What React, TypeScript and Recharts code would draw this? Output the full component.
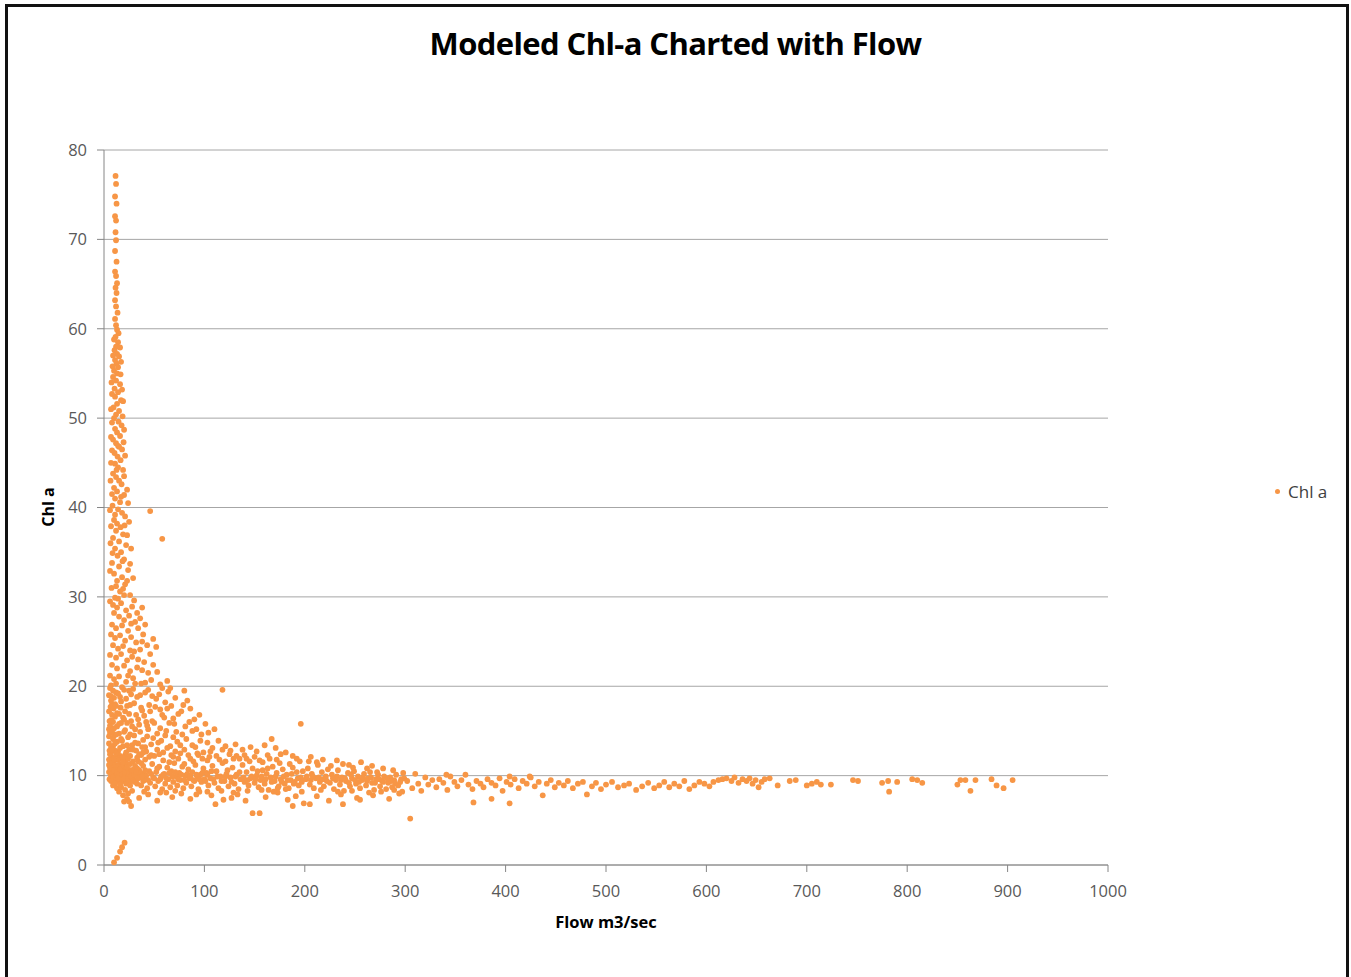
import { ScatterChart, Scatter, XAxis, YAxis, CartesianGrid } from 'recharts';

const ORANGE = '#F79646';
const FLOW_TICKS = [0, 100, 200, 300, 400, 500, 600, 700, 800, 900, 1000];
const CHLA_TICKS = [0, 10, 20, 30, 40, 50, 60, 70, 80];

// [flow m3/sec, chl a], grouped by region of the cloud
const SPIKE_TOP: [number, number][] = [
  [11.5, 77.1], [12, 76.2], [11, 74.8], [12.5, 74], [11, 72.6], [12, 72.1], [11.5, 70.8], [12, 69.9],
  [11, 68.7], [12.5, 67.5], [11, 66.4], [12, 65.9], [13, 65.1], [11.5, 64.6], [12.5, 64], [11, 63.2],
  [12, 62.5], [13.5, 61.8], [11, 61.1], [12, 60.4], [13, 59.9], [11.5, 59.1], [14, 58.5], [12, 58],
  [10.5, 57.6], [13, 57.2], [15, 56.9], [11, 56.5], [12.5, 56.1], [14, 55.7], [10, 55.3], [13, 55],
];

const SPIKE_MID: [number, number][] = [
  [9, 54.6], [12, 54.2], [16, 53.8], [10.5, 53.3], [14, 52.9], [11, 52.4], [17, 52], [13, 51.6],
  [9.5, 51.2], [15, 50.8], [12, 50.4], [10, 50], [14.5, 49.6], [17.5, 49.2], [11, 48.8], [13, 48.4],
  [16, 48], [9, 47.6], [12, 47.2], [15, 46.8], [18, 46.5], [10.5, 46.1], [13.5, 45.7], [16.5, 45.3],
  [11, 44.9], [14, 44.5], [19, 44.2],
  [9, 43.8], [12, 43.4], [15, 43], [17.5, 42.6], [10, 42.2], [13, 41.8], [20, 41.4], [11, 41],
  [16, 40.6], [8.5, 40.2], [14, 39.8], [18, 39.4], [21, 39], [10, 38.6], [13, 38.2], [16.5, 37.8],
  [12, 37.4], [19, 37], [9, 36.6], [15, 36.2], [22, 35.8], [11, 35.4], [17, 35], [13.5, 34.6],
  [20, 34.2], [8, 33.8], [15, 33.4], [24, 33], [10, 32.6], [18, 32.2], [13, 31.8], [21, 31.4],
  [7.5, 31], [16, 30.6], [26, 30.2], [11, 29.9],
];

const SPIKE_LOW: [number, number][] = [
  [6, 29.5], [9, 29.1], [13, 28.8], [17, 29.3], [22, 28.5], [28, 28.9], [10, 28.2], [15, 27.8],
  [20, 27.4], [25, 27.9], [31, 27.2], [8, 26.9], [12, 26.5], [18, 26.8], [24, 26.2], [34, 26.5],
  [7, 25.8], [11, 25.4], [16, 25.7], [21, 25.1], [27, 25.5], [38, 25], [49, 25.3], [52, 24.4],
  [9, 24.6], [14, 24.2], [19, 24.5], [30, 23.9], [36, 24.1], [6, 23.5], [12, 23.2], [17, 23.6],
  [23, 22.9], [28, 23.3], [40, 22.7], [8, 22.4], [13, 22], [20, 22.3], [26, 21.7], [33, 22.1],
  [44, 21.5], [6, 21.2], [10, 20.8], [15, 21.1], [22, 20.5], [29, 20.9], [37, 20.3], [47, 20.7],
  [56, 20.2], [63, 20.6], [7, 20.1], [12, 20.3], [18, 19.9],
];

const SPIKE_WIDE: [number, number][] = [
  [14.5, 59.5], [10, 58.8], [16, 57.9], [9, 57], [17, 56.3], [8.5, 55.8], [16.5, 54.9], [7.5, 54],
  [18, 53.2], [8, 52.7], [19, 51.9], [7, 51], [18.5, 50.2], [8, 49.5], [20, 48.7], [7, 47.9],
  [19.5, 47.3], [14, 46.9], [8, 46.4], [21, 45.8], [7, 45], [12.5, 44.2], [20, 43.5], [6.5, 43],
  [23, 42], [8, 41.5], [17, 41.2], [24, 40.5], [6, 39.7], [11, 39.2], [25, 38.4], [7, 37.9],
  [20.5, 38], [23, 36.9], [6.5, 36], [27, 35.4], [8.5, 34.9], [18.5, 34], [26, 33.7], [6, 32.9],
  [29, 32.1], [12, 31.2], [19, 30.9], [23, 31.8], [30, 29.6], [20, 30.2], [14, 29.8], [33, 28.2],
  [27, 27], [36, 27.6], [38, 28.8], [41, 26.9], [39, 25.8], [43, 24.6], [32, 24.9], [46, 23.6],
  [26, 24], [34, 23], [49, 22.4], [38, 21.8], [24, 21.2], [53, 21.6], [41, 20.4], [58, 19.8], [31, 20.3],
];

const CORNER: [number, number][] = [
  [5, 19], [7, 18.9], [10, 18.7], [12, 19.3], [16, 18.8], [22, 18.6], [25, 19.5], [29, 19.7], [36, 19],
  [5.5, 16.1], [6.5, 17.7], [8, 18], [9.5, 17.5], [12, 17.8], [15, 16.9], [16.5, 17.6], [21, 17.2], [26, 17.9],
  [32, 16.8], [38, 17.3], [5, 15.2], [7, 16.2], [9, 16], [11, 16.6], [13, 15.5], [17, 15.9], [20, 16.3],
  [23, 15.9], [27, 16.1], [31, 15.2], [35, 15.7], [42, 16], [5, 13.6], [6, 14.8], [8, 14.9], [10, 14.5],
  [13, 13.8], [15, 14.7], [17, 14.1], [20, 14.9], [23, 13.4], [26, 14.6], [30, 14.5], [34, 13.6], [38, 13.2],
  [43, 14.4], [5.5, 12.8], [7, 12.7], [9, 13.3], [11, 13.6], [14, 12.7], [16, 12.2], [19, 13.3], [21, 12.3],
  [25, 12.9], [28, 13.4], [32, 12.8], [37, 12.3], [41, 13.2], [5, 11.2], [6, 11.6], [7.5, 11.9], [9, 11.3],
  [10.5, 11.7], [12, 11.1], [14, 11.8], [15.5, 11.3], [17, 11.9], [18.5, 11.2], [20, 11.7], [22, 11.4], [24, 11.9],
  [26, 11.3], [29, 11.6], [31, 11.1], [34, 11.6], [37, 11.4], [5, 10.4], [6.5, 10.7], [8, 10.1], [9.5, 10.4],
  [11, 10.8], [12.5, 10.2], [14, 10.6], [15.5, 10.1], [17, 10.4], [18.5, 10.8], [20, 10.2], [22, 10.7], [24, 10.3],
  [26, 10.6], [28, 10.1], [30, 10.7], [32, 10.2], [35, 10.6], [38, 10.2], [5.5, 9.6], [7, 9.9], [8.5, 9.5],
  [10, 9.2], [11.5, 9.8], [13, 9.4], [14.5, 10.1], [16, 9.6], [18, 9.4], [19.5, 9.9], [21, 9.5], [23, 9.8],
  [25, 9.3], [27, 9.6], [29, 9.9], [31, 9.5], [33, 9.1], [36, 9.8], [39, 9.4],
];

const DECAY: [number, number][] = [
  [6, 19.8], [9, 19.5], [14, 19.2], [20, 19.6], [27, 19.1], [33, 18.8], [41, 19.3], [52, 18.6], [64, 19.4], [80, 19.5],
  [7, 18.4], [11, 18], [17, 18.3], [23, 17.8], [30, 18.1], [37, 17.6], [45, 17.9], [56, 17.4], [67, 17.8], [74, 16.9],
  [5, 17.2], [8, 16.8], [13, 17], [19, 16.5], [25, 16.9], [34, 16.3], [40, 16.7], [48, 16.1], [60, 16.5], [70, 15.8], [85, 16],
  [6, 15.6], [10, 15.3], [15, 15.8], [21, 15.1], [28, 15.5], [36, 14.9], [44, 15.2], [53, 14.7], [62, 15], [78, 14.6], [92, 15.2], [101, 15.8],
  [5, 14.4], [9, 14.1], [12, 14.6], [18, 13.9], [24, 14.3], [31, 13.7], [39, 14], [47, 13.5], [57, 13.9], [66, 13.3], [73, 13.8], [88, 13.4], [96, 13.9], [108, 13.1],
  [7, 13.2], [11, 12.8], [16, 13.1], [22, 12.6], [29, 12.9], [35, 12.4], [42, 12.7], [50, 12.2], [59, 12.6], [69, 12.1], [76, 12.5], [84, 12.3], [99, 12.6], [112, 12.2], [126, 12.8], [140, 12.3], [167, 14.1], [176, 12.4],
  [8, 12.1], [13, 12.3], [19, 12], [26, 12.2], [33, 12], [45, 12.1],
  [44, 19.6], [48, 18.9], [55, 19.1], [61, 18.2], [66, 19.8], [71, 18.7], [79, 17.9], [83, 18.4], [46, 17.2], [51, 17.7],
  [58, 16.8], [63, 17.5], [69, 16.4], [77, 17.2], [86, 17.5], [90, 16.3], [95, 16.8], [43, 15.6], [50, 15.9], [56, 15.3],
  [65, 15.9], [72, 14.9], [81, 15.5], [88, 15], [97, 14.6], [104, 14.8], [110, 15.2], [49, 14.2], [54, 13.7], [61, 14.5],
  [69, 14.3], [76, 13.4], [82, 14.1], [91, 13.2], [103, 13.7], [114, 13.9], [121, 13.3], [131, 13.5], [138, 12.9], [146, 13.2],
  [152, 12.7], [160, 13.4], [171, 13.1], [181, 12.6], [53, 12.9], [63, 13.1], [71, 12.7], [80, 12.9], [93, 12.5], [106, 12.7],
  [118, 12.9], [132, 12.2], [150, 12.1], [163, 12.3], [188, 12.2], [39, 12.6], [55, 12.4], [67, 12.3], [86, 11.9], [94, 12.3],
  [103, 11.7], [121, 11.6], [129, 11.9], [142, 11.9], [158, 11.5], [172, 11.8], [192, 11.9], [206, 12.1], [218, 11.8], [232, 11.7],
  [244, 11.2], [256, 11.5], [267, 11.1], [278, 10.8], [288, 10.6],
];

const BAND: [number, number][] = [
  [5, 11.8], [6, 10.9], [7, 10.2], [8, 11.4], [9, 9.8], [10, 10.6], [11, 11.2], [12, 9.5], [13, 10.3], [14, 11],
  [15, 9.9], [16, 10.7], [17, 9.3], [18, 10.1], [19, 11.5], [20, 9.7], [21, 10.4], [22, 9.1], [23, 10.9], [24, 9.6],
  [25, 10.2], [26, 8.9], [27, 9.9], [28, 10.6], [29, 9.4], [30, 10.1], [6, 12.4], [8, 12.9], [10, 11.9], [12, 12.5],
  [7, 9.4], [9, 8.9], [11, 9.1], [13, 8.6], [15, 8.2], [17, 8.7], [19, 7.8], [21, 8.4], [23, 7.4], [25, 7.1],
  [27, 6.6], [20, 7.1], [24, 8], [28, 8.3], [16, 9], [14, 9.7],
  [31, 9.3], [33, 10.8], [34, 9.7], [36, 10.3], [37, 8.9], [39, 11.1], [40, 9.5], [42, 10], [43, 8.6], [45, 10.5],
  [46, 9.2], [48, 11.3], [49, 9.8], [51, 8.8], [52, 10.4], [54, 9.4], [55, 11], [57, 9.9], [58, 8.5], [60, 10.2],
  [61, 9.1], [63, 10.9], [64, 9.6], [66, 8.7], [67, 10.5], [69, 9.3], [70, 11.4], [72, 9.9], [73, 8.9], [75, 10.3],
  [76, 9.5], [78, 11], [79, 8.6], [81, 10], [82, 9.2], [84, 10.7], [85, 9.7], [87, 8.8], [88, 10.4], [90, 9.4],
  [91, 11.2], [93, 9.9], [94, 8.5], [96, 10.1], [97, 9.3], [99, 10.8], [100, 9.6],
  [35, 7.5], [44, 7.9], [53, 7.2], [62, 8.1], [68, 7.6], [77, 8], [86, 7.4], [95, 8.2], [41, 11.8], [59, 11.7],
  [74, 11.9], [89, 11.6], [47, 12.3], [65, 11.5], [80, 11.3], [98, 11.9],
  [102, 10.3], [104, 8.9], [106, 9.7], [108, 11.1], [110, 9.2], [112, 10.5], [114, 8.6], [116, 9.9], [118, 11.4], [120, 9.4],
  [122, 10.2], [124, 8.8], [126, 9.8], [128, 10.9], [130, 9.1], [132, 10.1], [134, 8.5], [136, 9.6], [138, 11.2], [140, 9.3],
  [142, 10.4], [144, 8.9], [146, 9.7], [148, 10.8], [150, 9.2], [152, 10], [154, 8.7], [156, 9.5], [158, 10.6], [160, 9.1],
  [162, 10.2], [164, 8.4], [166, 9.8], [168, 11], [170, 9.4], [172, 10.3], [174, 8.8], [176, 9.6], [178, 10.7], [180, 9.1],
  [182, 10.1], [184, 8.6], [186, 9.5], [188, 10.9], [190, 9.3], [192, 10.4], [194, 8.9], [196, 9.8], [198, 10.5],
  [105, 12.1], [115, 11.8], [125, 12.4], [135, 11.9], [145, 11.6], [155, 11.7], [165, 11.9], [175, 11.4], [185, 11.3], [195, 11.6],
  [107, 7.8], [119, 7.3], [133, 7.9], [148, 5.8], [155, 5.8], [161, 7.6], [173, 8.1], [183, 7.3], [191, 7.7], [199, 6.9],
  [111, 6.8], [127, 7.5], [141, 7.2], [188, 6.6],
  [201, 9.6], [203, 10.8], [205, 9], [207, 10.2], [209, 8.6], [211, 9.7], [213, 11.2], [215, 9.3], [217, 10.4], [219, 8.8],
  [221, 9.9], [223, 10.7], [225, 9.2], [227, 10.1], [229, 8.5], [231, 9.5], [233, 10.6], [235, 9], [237, 9.8], [239, 8.3],
  [241, 9.4], [243, 10.3], [245, 8.8], [247, 9.7], [249, 10.5], [251, 9.1], [253, 9.9], [255, 8.6], [257, 9.5], [259, 10.2],
  [261, 8.9], [263, 9.7], [265, 10.4], [267, 9.2], [269, 8.4], [271, 9.6], [273, 10.1], [275, 8.8], [277, 9.4], [279, 9.9],
  [281, 8.5], [283, 9.2], [285, 9.8], [287, 8.7], [289, 9.5], [291, 10.1], [293, 8.9], [295, 9.3], [297, 8.2], [299, 9.7],
  [204, 11.6], [212, 11.5], [226, 11.1], [238, 11.3], [248, 10.9], [262, 10.8], [272, 10.4], [205, 6.8], [212, 7.7], [224, 7.2],
  [236, 7.9], [238, 6.8], [252, 7.5], [255, 7.3], [268, 7.8], [284, 7.4], [294, 8],
  [32, 10.4], [38, 9.9], [41, 10.6], [44, 9.5], [47, 10.2], [50, 9.7], [53, 10.8], [56, 9.6], [59, 10.1], [62, 9.7],
  [65, 10.3], [68, 9.9], [71, 10.4], [74, 9.6], [77, 10.1], [80, 9.5], [83, 10.2], [86, 9.9], [89, 9.5], [92, 10.1],
  [95, 9.6], [98, 10.3], [101, 9.4], [103, 10.1], [107, 10.5], [109, 9.6], [113, 9.9], [117, 9.4], [121, 9.9], [123, 10.6],
  [127, 9.3], [131, 9.9], [135, 10.4], [139, 9.8], [143, 9.5], [147, 9.9], [151, 9.6], [153, 10.5], [157, 9.9], [161, 9.6],
  [163, 10.8], [167, 9.3], [171, 9.9], [173, 8.6], [177, 9.3], [179, 9.9], [183, 9.5], [187, 10.2], [189, 9.1], [193, 9.7],
  [197, 9.3], [202, 9.9], [206, 9.5], [208, 9.9], [214, 9.8], [218, 9.6], [222, 9.4], [228, 9.7], [232, 9.9], [236, 9.5],
  [240, 9.7], [244, 9.2], [246, 10.1], [250, 9.5], [254, 9.3], [258, 9.8], [262, 9.4], [266, 9.8], [270, 9.2], [274, 9.6],
  [278, 9.3], [282, 9.7], [286, 9.4], [290, 9.1], [296, 9.6], [298, 10.3],
  [40, 8.2], [56, 8.1], [71, 8.3], [92, 7.9], [103, 8.2], [117, 8.3], [129, 8.1], [143, 8.3], [157, 8.4], [169, 8.2],
  [181, 8.5], [197, 8.2], [216, 8.4], [233, 8.2], [247, 8.3], [264, 8.1], [276, 8.2], [289, 8.4],
];

const TAIL: [number, number][] = [
  [302, 9.4], [305, 5.2], [307, 8.6], [310, 10.2], [313, 9.1], [316, 8.3], [320, 9.8], [323, 9], [327, 9.5], [331, 8.7],
  [334, 9.6], [338, 9.2], [341, 10.1], [342, 8.4], [345, 9.9], [349, 9.3], [352, 8.8], [356, 9.5], [360, 10.1], [363, 9],
  [367, 8.5], [368, 7], [371, 9.4], [375, 9.1], [378, 8.7], [382, 9.6], [386, 7.4], [386, 9.2], [390, 8.9], [394, 9.7],
  [397, 8.3], [401, 9.3], [404, 9.9], [404, 6.9], [405, 9], [409, 9.6], [413, 8.6], [417, 9.4], [421, 9.1], [424, 9.9],
  [425, 9.8], [429, 8.8], [433, 9.3], [437, 7.8], [441, 9.1], [445, 9.5], [449, 8.7], [453, 9.2], [458, 8.9], [462, 9.4],
  [467, 8.6], [472, 9.1], [477, 9.3], [481, 7.9], [486, 8.8], [490, 9.2], [495, 8.5], [500, 9], [506, 9.3], [512, 8.7],
  [518, 8.9], [523, 9.1], [530, 8.4], [536, 8.8], [542, 9.2], [548, 8.6], [553, 8.9], [558, 9.3], [563, 8.7], [568, 9.1],
  [573, 8.8], [578, 9.4], [583, 8.5], [588, 8.9], [593, 9.3],
  [598, 9.1], [603, 8.8], [607, 9.3], [612, 9.5], [616, 9.6], [620, 9.7], [625, 9.4], [628, 9.8], [632, 9.2], [636, 9.6],
  [640, 9.4], [643, 9.7], [646, 9.1], [649, 9.5], [652, 8.7], [655, 9.3], [658, 9.6], [663, 9.7], [671, 8.9], [683, 9.4],
  [689, 9.5], [700, 8.9], [705, 9.1], [710, 9.3], [714, 9], [724, 9], [746, 9.5], [751, 9.4], [775, 9.2], [781, 9.4],
  [782, 8.2], [790, 9.3], [805, 9.6], [810, 9.5], [815, 9.2], [850, 9], [853, 9.5], [858, 9.5], [863, 8.3], [868, 9.5],
  [884, 9.6], [889, 8.9], [896, 8.6], [905, 9.5],
];

const OUTLIERS: [number, number][] = [
  [46, 39.6], [58, 36.5], [118, 19.6], [196, 15.8],
  [10, 0.3], [13, 0.8], [16, 1.5], [18, 2], [20.5, 2.5],
];

const points = [...SPIKE_TOP, ...SPIKE_MID, ...SPIKE_LOW, ...SPIKE_WIDE, ...CORNER, ...DECAY, ...BAND, ...TAIL, ...OUTLIERS]
  .map(([flow, chla]) => ({ flow, chla }));

const Dot = (p: any) => <circle cx={p.cx} cy={p.cy} r={2.9} fill={ORANGE} />;

const FONT = '"Open Sans", Calibri, sans-serif';
const tick = { fontSize: 16.5, fill: '#595959', fontFamily: FONT };

export default function App() {
  return (
    <div style={{ position: 'absolute', left: 0, top: 0, width: 1351, height: 977, overflow: 'hidden', background: '#fff' }}>
      <div style={{
        position: 'absolute', left: 5, top: 4, width: 1338, height: 990,
        border: '3px solid #111', boxSizing: 'content-box',
      }} />
      <div style={{
        position: 'absolute', left: 0, width: 1351, top: 22, textAlign: 'center',
        fontFamily: FONT, fontWeight: 700, fontSize: 31, color: '#000', letterSpacing: -0.6,
      }}>
        Modeled Chl-a Charted with Flow
      </div>
      <div style={{ position: 'absolute', left: 0, top: 0 }}>
        <ScatterChart width={1351} height={977} margin={{ top: 150, right: 243, bottom: 82, left: 44 }}>
          <CartesianGrid vertical={false} stroke="#a6a6a6" strokeWidth={1} />
          <XAxis type="number" dataKey="flow" domain={[0, 1000]} ticks={FLOW_TICKS} interval={0}
            height={30} tickSize={7} tickMargin={13} stroke="#868686" tick={tick} />
          <YAxis type="number" dataKey="chla" domain={[0, 80]} ticks={CHLA_TICKS} interval={0}
            width={60} tickSize={7} tickMargin={10} stroke="#868686" tick={tick} />
          <Scatter data={points} fill={ORANGE} shape={Dot} isAnimationActive={false} />
        </ScatterChart>
      </div>
      <div style={{
        position: 'absolute', left: 48, top: 507, transform: 'translate(-50%, -50%) rotate(-90deg)',
        fontFamily: FONT, fontWeight: 700, fontSize: 16, color: '#000', whiteSpace: 'nowrap',
      }}>
        Chl a
      </div>
      <div style={{
        position: 'absolute', left: 606, top: 921, transform: 'translate(-50%, -50%)',
        fontFamily: FONT, fontWeight: 700, fontSize: 16.5, color: '#000', whiteSpace: 'nowrap',
      }}>
        Flow m3/sec
      </div>
      <div style={{ position: 'absolute', left: 1275, top: 489, width: 5, height: 5, borderRadius: '50%', background: ORANGE }} />
      <div style={{
        position: 'absolute', left: 1288, top: 480, fontFamily: FONT, fontSize: 17, color: '#404040', whiteSpace: 'nowrap',
      }}>
        Chl a
      </div>
    </div>
  );
}
